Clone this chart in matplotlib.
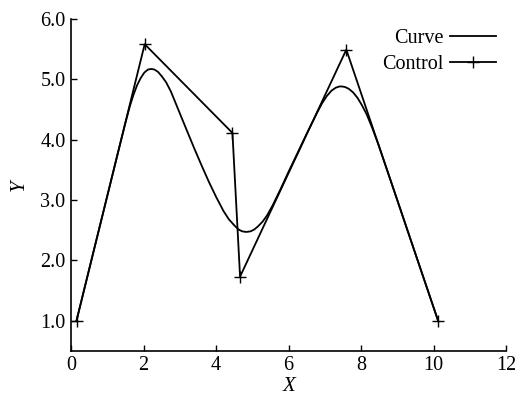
import matplotlib
matplotlib.use('Agg')
import matplotlib.pyplot as plt

# control polygon
ctrl_x = [0.15, 2.03, 4.45, 4.66, 7.59, 10.12]
ctrl_y = [1.0, 5.58, 4.11, 1.73, 5.49, 1.0]

# curve
curve_x = [0.15, 0.6, 1.0, 1.3, 1.5, 1.62, 1.72, 1.82, 1.92, 2.02, 2.12,
           2.21, 2.30, 2.40, 2.50, 2.62, 2.75, 2.9, 3.05, 3.2, 3.4, 3.6,
           3.8, 4.0, 4.2, 4.35, 4.5, 4.62, 4.72, 4.83, 4.95, 5.05, 5.15,
           5.28, 5.4, 5.55, 5.77, 6.0, 6.2, 6.5, 6.78, 6.92, 7.05, 7.18,
           7.3, 7.40, 7.47, 7.56, 7.66, 7.78, 7.9, 8.02, 8.15, 8.3, 8.48,
           9.0, 9.5, 10.12]
curve_y = [1.0, 2.10, 3.07, 3.80, 4.28, 4.55, 4.74, 4.90, 5.02, 5.11, 5.16,
           5.17, 5.16, 5.12, 5.05, 4.95, 4.80, 4.58, 4.36, 4.14, 3.85, 3.57,
           3.30, 3.05, 2.82, 2.68, 2.58, 2.51, 2.48, 2.47, 2.48, 2.51, 2.56,
           2.64, 2.74, 2.90, 3.17, 3.47, 3.72, 4.10, 4.44, 4.60, 4.72, 4.81,
           4.86, 4.88, 4.88, 4.87, 4.84, 4.78, 4.69, 4.57, 4.42, 4.20, 3.91,
           2.99, 2.10, 1.0]

xticks = [0, 2, 4, 6, 8, 10, 12]
yticks = [1.0, 2.0, 3.0, 4.0, 5.0, 6.0]

plt.rcParams['font.family'] = ['Liberation Serif', 'DejaVu Serif']

fig = plt.figure(figsize=(5.15, 4.01), dpi=100)
ax = fig.add_axes([0.138, 0.125, 0.845, 0.828])

ax.plot(curve_x, curve_y, color='black', lw=1.3, label='Curve')
ax.plot(ctrl_x, ctrl_y, color='black', lw=1.3, marker='+', ms=9,
        mew=1.0, label='Control')

ax.set_xlim(0, 12)
ax.set_ylim(0.5, 6.0)
ax.set_xticks(xticks)
ax.set_yticks(yticks)
ax.set_yticklabels([f'{v:.1f}' for v in yticks])
ax.tick_params(direction='in', length=4, width=1, labelsize=14.5, pad=4)
ax.spines['top'].set_visible(False)
ax.spines['right'].set_visible(False)
for s in ('left', 'bottom'):
    ax.spines[s].set_linewidth(1.2)

ax.set_xlabel('X', fontsize=15, style='italic', labelpad=1)
ax.set_ylabel('Y', fontsize=15, style='italic', labelpad=8)

ax.legend(loc='upper right', frameon=False, markerfirst=False, fontsize=14.5,
          handlelength=2.3, handletextpad=0.3, labelspacing=0.33,
          borderaxespad=0.1, bbox_to_anchor=(1.0, 1.0))

fig.savefig('out.png', dpi=100)
plt.close(fig)
